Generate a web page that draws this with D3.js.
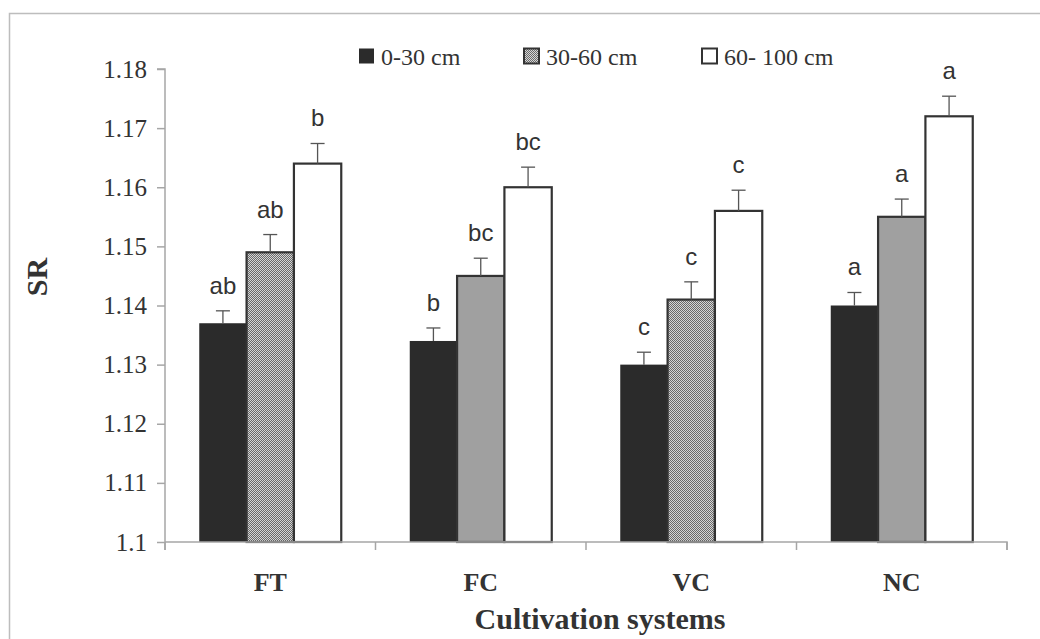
<!DOCTYPE html>
<html><head><meta charset="utf-8">
<script src="https://cdn.jsdelivr.net/npm/d3@7"></script>
<style>
html,body{margin:0;padding:0;background:#fff;}
svg{display:block;}
</style></head>
<body>
<svg id="chart" width="1040" height="639"></svg>
<script>
const categories = ["FT", "FC", "VC", "NC"];
const seriesNames = ["0-30 cm", "30-60 cm", "60- 100 cm"];
const values0to30   = [1.137, 1.134, 1.130, 1.140];
const values30to60  = [1.149, 1.145, 1.141, 1.155];
const values60to100 = [1.164, 1.160, 1.156, 1.172];
const errors0to30   = [0.0021, 0.0022, 0.0021, 0.0022];
const errors30to60  = [0.0030, 0.0030, 0.0030, 0.0030];
const errors60to100 = [0.0034, 0.0034, 0.0035, 0.0034];
const letters0to30   = ["ab", "b", "c", "a"];
const letters30to60  = ["ab", "bc", "c", "a"];
const letters60to100 = ["b", "bc", "c", "a"];
const yTickValues = [1.1, 1.11, 1.12, 1.13, 1.14, 1.15, 1.16, 1.17, 1.18];
const yTickLabels = ["1.1", "1.11", "1.12", "1.13", "1.14", "1.15", "1.16", "1.17", "1.18"];

const allValues = [values0to30, values30to60, values60to100];
const allErrors = [errors0to30, errors30to60, errors60to100];
const allLetters = [letters0to30, letters30to60, letters60to100];

const svg = d3.select("#chart");
const serif = "'Liberation Serif', 'Times New Roman', serif";
const sans = "'Liberation Sans', Arial, sans-serif";

// outer frame
svg.append("rect").attr("x", 9.5).attr("y", 13.5).attr("width", 1200).attr("height", 800)
  .attr("fill", "none").attr("stroke", "#bdbdbd").attr("stroke-width", 1.5);

// pattern
const defs = svg.append("defs");
const pat = defs.append("pattern").attr("id", "checker").attr("patternUnits", "userSpaceOnUse")
  .attr("width", 2).attr("height", 2);
pat.append("rect").attr("width", 2).attr("height", 2).attr("fill", "#d6d6d6");
pat.append("rect").attr("x", 0).attr("y", 0).attr("width", 1).attr("height", 1).attr("fill", "#6a6a6a");
pat.append("rect").attr("x", 1).attr("y", 1).attr("width", 1).attr("height", 1).attr("fill", "#6a6a6a");

const plotLeft = 165, plotRight = 1007, plotTop = 69, plotBottom = 542;
const x0 = d3.scaleBand().domain(categories).range([plotLeft, plotRight]).padding(0);
const x1 = d3.scaleBand().domain(d3.range(3)).range([0, x0.bandwidth()]).paddingInner(0).paddingOuter(0.7236);
const y = d3.scaleLinear().domain([1.1, 1.18]).range([plotBottom, plotTop]);

const fills = ["#2b2b2b", "url(#checker)", "#ffffff"];
const axisColor = "#a6a6a6";

// y axis
const yAxis = d3.axisLeft(y).tickValues(yTickValues).tickFormat((d, i) => yTickLabels[i]).tickSize(8).tickPadding(10);
const gy = svg.append("g").attr("transform", `translate(${plotLeft},0)`).call(yAxis);
gy.select(".domain").attr("stroke", axisColor).attr("stroke-width", 1.5).attr("d", `M-8,${plotTop}H0V${plotBottom + 8}`);
gy.selectAll(".tick line").attr("stroke", axisColor).attr("stroke-width", 1.5);
gy.selectAll(".tick text").attr("font-family", serif).attr("font-size", 25).attr("fill", "#333");

// bars
categories.forEach((c, ci) => {
  const g = svg.append("g").attr("transform", `translate(${x0(c)},0)`);
  for (let s = 0; s < 3; s++) {
    const v = allValues[s][ci];
    const bx = x1(s), bw = x1.bandwidth();
    g.append("rect").attr("x", bx).attr("y", y(v)).attr("width", bw).attr("height", y(1.1) - y(v))
      .attr("fill", fills[s]).attr("stroke", "#333").attr("stroke-width", s === 0 ? 0 : 2.2);
    const cx = bx + bw / 2;
    const ye = y(v + allErrors[s][ci]);
    g.append("line").attr("x1", cx).attr("x2", cx).attr("y1", y(v)).attr("y2", ye)
      .attr("stroke", "#555").attr("stroke-width", 1.3);
    g.append("line").attr("x1", cx - 7).attr("x2", cx + 7).attr("y1", ye).attr("y2", ye)
      .attr("stroke", "#555").attr("stroke-width", 1.3);
    g.append("text").attr("x", cx).attr("y", ye - 17).attr("text-anchor", "middle")
      .attr("font-family", sans).attr("font-size", 24).attr("fill", "#333").text(allLetters[s][ci]);
  }
});

// x axis
const xAxis = d3.axisBottom(x0).tickSize(0).tickPadding(0);
const gx = svg.append("g").attr("transform", `translate(0,${plotBottom})`).call(xAxis);
gx.select(".domain").attr("stroke", axisColor).attr("stroke-width", 1.5).attr("d", `M${plotLeft},0H${plotRight}V8`);
gx.selectAll(".tick text").attr("font-family", serif).attr("font-size", 26).attr("font-weight", "bold")
  .attr("fill", "#333").attr("dy", 0).attr("y", 49);
const boundaries = categories.map(c => x0(c)).concat([plotRight]);
gx.selectAll("line.sep").data(boundaries).enter().append("line").attr("class", "sep")
  .attr("x1", d => d).attr("x2", d => d).attr("y1", 0).attr("y2", 8)
  .attr("stroke", axisColor).attr("stroke-width", 1.5);

// axis titles
svg.append("text").attr("x", 600).attr("y", 629).attr("text-anchor", "middle")
  .attr("font-family", serif).attr("font-size", 30).attr("font-weight", "bold").attr("fill", "#333")
  .text("Cultivation systems");
svg.append("text").attr("transform", "translate(47,277) rotate(-90)").attr("text-anchor", "middle")
  .attr("font-family", serif).attr("font-size", 30).attr("font-weight", "bold").attr("fill", "#333")
  .text("SR");

// legend
const legendX = [358, 523, 701];
const lg = svg.append("g");
seriesNames.forEach((n, i) => {
  lg.append("rect").attr("x", legendX[i] + 1).attr("y", 48.5).attr("width", 15).attr("height", 15)
    .attr("fill", fills[i]).attr("stroke", "#333").attr("stroke-width", i === 0 ? 0 : 2);
  lg.append("text").attr("x", legendX[i] + 23).attr("y", 64.5).attr("font-family", serif)
    .attr("font-size", 24).attr("fill", "#333").text(n);
});
</script>
</body></html>
